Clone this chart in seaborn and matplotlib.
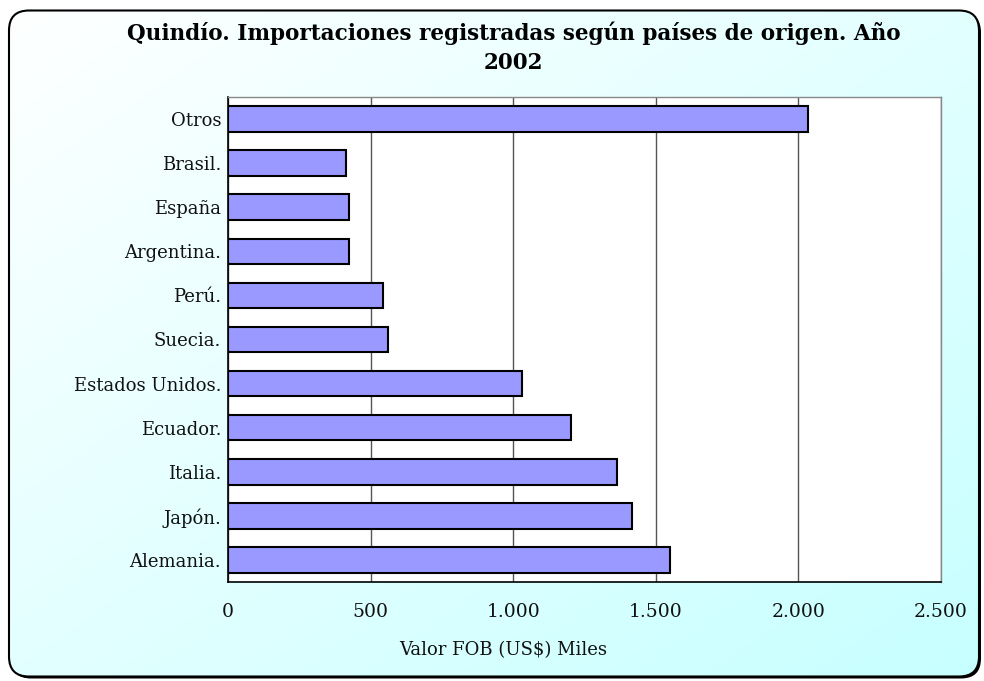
import numpy as np
import pandas as pd
import seaborn as sns
import matplotlib.pyplot as plt
from matplotlib.patches import FancyBboxPatch
from matplotlib.ticker import FuncFormatter, FixedLocator

# data (thousands of US$ FOB), top to bottom
paises = ["Otros", "Brasil.", "España", "Argentina.", "Perú.", "Suecia.",
          "Estados Unidos.", "Ecuador.", "Italia.", "Japón.", "Alemania."]
valores = [2035, 414, 424, 423, 542, 560, 1030, 1203, 1364, 1418, 1549]
x_ticks = [0, 500, 1000, 1500, 2000, 2500]

titulo = "Quindío. Importaciones registradas según países de origen. Año\n2002"
x_label = "Valor FOB (US\\$) Miles"

df = pd.DataFrame({"pais": paises, "valor": valores})

sns.set_style("white")
plt.rcParams['font.family'] = ['DejaVu Serif']

fig = plt.figure(figsize=(9.84, 6.81), dpi=100)

# background: rounded frame with shadow and white -> cyan gradient
bg = fig.add_axes([0, 0, 1, 1], zorder=-10)
bg.set_xlim(0, 1)
bg.set_ylim(0, 1)
bg.axis("off")
shadow = FancyBboxPatch((0.11, 0.025), 9.70, 6.66, boxstyle="round,pad=0,rounding_size=0.2",
                        transform=fig.dpi_scale_trans, facecolor="black", edgecolor="none")
bg.add_patch(shadow)
frame = FancyBboxPatch((0.09, 0.045), 9.70, 6.66, boxstyle="round,pad=0,rounding_size=0.2",
                       transform=fig.dpi_scale_trans, facecolor="none", edgecolor="black", lw=1.5, zorder=3)
bg.add_patch(frame)
gx, gy = np.meshgrid(np.linspace(0, 1, 200), np.linspace(0, 1, 200))
t = np.clip((gx + gy) / 2, 0, 1)
top = np.array([1.0, 1.0, 1.0])
bot = np.array([0.78, 1.0, 1.0])
grad = top[None, None, :] * (1 - t[..., None]) + bot[None, None, :] * t[..., None]
im = bg.imshow(grad, extent=[0, 1, 0, 1], aspect="auto", origin="upper", zorder=1)
clip = FancyBboxPatch((0.09, 0.045), 9.70, 6.66, boxstyle="round,pad=0,rounding_size=0.2",
                      transform=fig.dpi_scale_trans, facecolor="none", edgecolor="none")
bg.add_patch(clip)
im.set_clip_path(clip)

ax = fig.add_axes([0.2317, 0.1454, 0.7246, 0.7122])
ax.set_facecolor("white")
sns.barplot(data=df, y="pais", x="valor", order=paises, orient="h", color="#9999FF",
            saturation=1, width=0.58, edgecolor="black", linewidth=1.5, ax=ax, zorder=3)

ax.set_xlim(0, 2500)
ax.set_ylim(len(paises) - 0.5, -0.5)
ax.xaxis.set_major_locator(FixedLocator(x_ticks))
ax.xaxis.set_major_formatter(FuncFormatter(lambda v, p: f"{int(v):,}".replace(",", ".")))
ax.grid(axis="x", color="#555555", lw=1, zorder=0)
ax.set_axisbelow(True)

# y ticks sit between categories
ax.yaxis.set_minor_locator(FixedLocator(np.arange(-0.5, len(paises), 1)))
ax.tick_params(axis="y", which="major", length=0, pad=5, labelsize=13)
ax.tick_params(axis="y", which="minor", length=6, width=1, color="black", direction="out")
ax.tick_params(axis="x", which="major", length=7, width=1, color="black", direction="out",
               pad=8, labelsize=13.5)
for lab in ax.get_yticklabels() + ax.get_xticklabels():
    lab.set_color("#111111")

for side in ["left", "bottom"]:
    ax.spines[side].set_color("black")
    ax.spines[side].set_linewidth(1.2)
for side in ["top", "right"]:
    ax.spines[side].set_color("#888888")
    ax.spines[side].set_linewidth(1)

ax.set_xlabel("")
ax.set_ylabel("")
fig.text(0.511, 0.046, x_label, ha="center", va="center", fontsize=13, color="#111111")
fig.text(0.522, 0.93, titulo, ha="center", va="center", fontsize=15.5, fontweight="bold",
         color="black", linespacing=1.45)

fig.savefig("out.png", dpi=100)
